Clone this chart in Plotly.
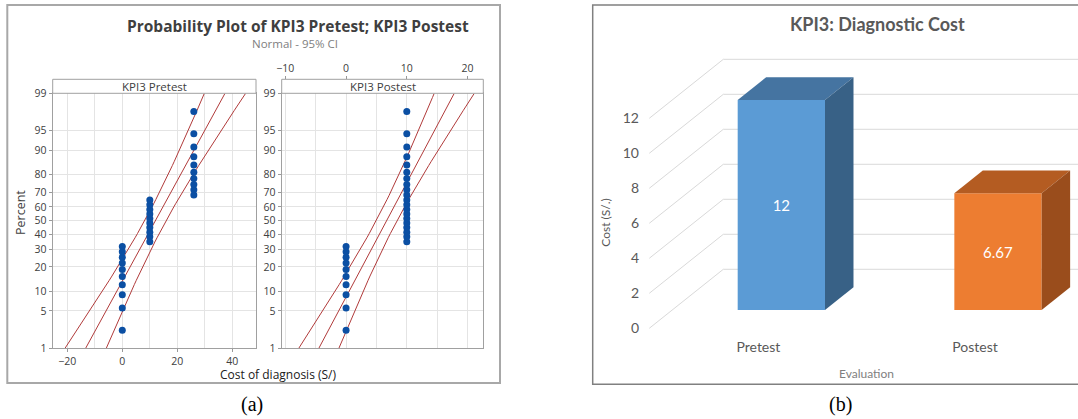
import math
from statistics import NormalDist, mean, stdev
import plotly.graph_objects as go

# ---------------- data ----------------
pretest_cost = [0, 0, 0, 0, 0, 0, 0, 0, 0, 0,
                10, 10, 10, 10, 10, 10, 10, 10, 10, 10,
                26, 26, 26, 26, 26, 26, 26, 26, 26, 26]
postest_cost = [0, 0, 0, 0, 0, 0, 0, 0, 0, 0,
                10, 10, 10, 10, 10, 10, 10, 10, 10, 10,
                10, 10, 10, 10, 10, 10, 10, 10, 10, 10]
percent_ticks = [1, 5, 10, 20, 30, 40, 50, 60, 70, 80, 90, 95, 99]
pre_xticks = [-20, 0, 20, 40]
pre_xminor = [-10, 10, 30]
post_xticks = [-10, 0, 10, 20]
post_xminor = [-5, 5, 15]

categories = ["Pretest", "Postest"]
avg_cost = [12, 6.67]
cost_ticks = [0, 2, 4, 6, 8, 10, 12]

# ---------------- helpers ----------------
W, H = 1078, 419
def px(x):
    return x / W
def py(y):
    return 1 - y / H

nd = NormalDist()
ZLO, ZHI = nd.inv_cdf(0.01), nd.inv_cdf(0.99)
GRID = "#e4e4e4"
AXC = "#a0a0a0"
TXT = "#404040"
RED = "#b03a3a"
BLUE = "#0b4fa3"
MFONT = "Open Sans"
XFONT = "Lato"

fig = go.Figure()

def prob_traces(data, xa, ya):
    vals = sorted(data)
    n = len(vals)
    zs = [nd.inv_cdf((i + 1 - 0.3) / (n + 0.4)) for i in range(n)]
    mu, s = mean(vals), stdev(vals)
    zg = [ZLO + (ZHI - ZLO) * k / 60 for k in range(61)]
    mid = [mu + z * s for z in zg]
    hw = [1.96 * s / math.sqrt(n) * math.sqrt(1 + z * z / 2) for z in zg]
    for xs in ([m - h for m, h in zip(mid, hw)], mid, [m + h for m, h in zip(mid, hw)]):
        fig.add_trace(go.Scatter(x=xs, y=zg, mode="lines", xaxis=xa, yaxis=ya,
                                 line=dict(color=RED, width=1), showlegend=False,
                                 hoverinfo="skip"))
    fig.add_trace(go.Scatter(x=vals, y=zs, mode="markers", xaxis=xa, yaxis=ya,
                             marker=dict(color=BLUE, size=7), showlegend=False))

prob_traces(pretest_cost, "x", "y")
prob_traces(postest_cost, "x2", "y2")
# carrier for the top axis of the postest panel
fig.add_trace(go.Scatter(x=[0], y=[0], xaxis="x5", yaxis="y2", mode="markers",
                         marker=dict(opacity=0), showlegend=False, hoverinfo="skip"))

zt = [nd.inv_cdf(p / 100) for p in percent_ticks]
ydom = [py(348.3), py(93.3)]
yax = dict(range=[ZLO, ZHI], tickmode="array", tickvals=zt,
           ticktext=[str(p) for p in percent_ticks], showgrid=True, gridcolor=GRID,
           zeroline=False, showline=True, linecolor=AXC, mirror=True,
           ticks="outside", ticklen=3, tickcolor="#999", automargin=False,
           tickfont=dict(family=MFONT, size=10.5, color=TXT), domain=ydom)

P1 = [52.7, 256.0]
P2 = [281.7, 483.3]
fig.update_layout(
    xaxis=dict(domain=[px(P1[0]), px(P1[1])], range=[-25.3, 48.6], tickmode="array",
               tickvals=pre_xticks, showgrid=True, gridcolor=GRID, zeroline=False,
               minor=dict(tickvals=pre_xminor, showgrid=True, gridcolor=GRID),
               showline=True, linecolor=AXC, mirror=True, ticks="outside", ticklen=3,
               tickcolor="#999", tickfont=dict(family=MFONT, size=10.5, color=TXT),
               anchor="y", automargin=False),
    yaxis=dict(anchor="x", **yax),
    xaxis2=dict(domain=[px(P2[0]), px(P2[1])], range=[-10.6, 22.6], tickmode="array",
                tickvals=post_xticks, showgrid=True, gridcolor=GRID, zeroline=False,
                minor=dict(tickvals=post_xminor, showgrid=True, gridcolor=GRID),
                showline=True, linecolor=AXC, mirror=True, showticklabels=False,
                ticks="", anchor="y2", automargin=False),
    yaxis2=dict(anchor="x2", **yax),
    xaxis5=dict(overlaying="x2", anchor="free", position=py(79.3), side="top",
                range=[-10.6, 22.6], tickmode="array", tickvals=post_xticks,
                showgrid=False, zeroline=False, showline=False, ticks="outside",
                ticklen=3, tickcolor="#999", automargin=False,
                tickfont=dict(family=MFONT, size=10.5, color=TXT)),
)

# ---------------- right: 3D-looking bar chart ----------------
BAR_W = 0.403
DX, DY = 0.3416, 3.371          # full floor depth in axis units
FF, BF = 0.31, 0.385            # front-plane fraction, bar depth fraction
WALL_L = -0.5036
X3R = [-0.6524, 1.3693]
Y3R = [-1.543, 15.4286]
front_col = ["#5b9bd5", "#ed7d31"]
top_col = ["#4574a1", "#b45c22"]
side_col = ["#386186", "#9a4d1c"]

fig.add_trace(go.Bar(x=list(range(len(categories))), y=avg_cost, width=BAR_W,
                     marker=dict(color=front_col, line=dict(width=0)),
                     text=[f"{v:g}" for v in avg_cost], textposition="inside",
                     insidetextanchor="middle", textangle=0,
                     textfont=dict(family=XFONT, size=15, color="white"),
                     xaxis="x3", yaxis="y3", showlegend=False))
fig.add_trace(go.Scatter(x=[0], y=[0], xaxis="x4", yaxis="y3", mode="markers",
                         marker=dict(opacity=0), showlegend=False, hoverinfo="skip"))
fig.add_trace(go.Scatter(x=[0], y=[0], xaxis="x3", yaxis="y4", mode="markers",
                         marker=dict(opacity=0), showlegend=False, hoverinfo="skip"))

shapes = []
for v in cost_ticks:
    fx, fy = WALL_L - FF * DX, v - FF * DY
    bx, by = WALL_L + (1 - FF) * DX, v + (1 - FF) * DY
    shapes.append(dict(type="path", xref="x3", yref="y3", layer="below",
                       path=f"M{fx},{fy} L{bx},{by} L{X3R[1]},{by}",
                       line=dict(color="#d9d9d9", width=1)))
dx, dy = BF * DX, BF * DY
for i, v in enumerate(avg_cost):
    x0, x1 = i - BAR_W / 2, i + BAR_W / 2
    shapes.append(dict(type="path", xref="x3", yref="y3", layer="above",
                       path=f"M{x0},{v} L{x1},{v} L{x1+dx},{v+dy} L{x0+dx},{v+dy} Z",
                       fillcolor=top_col[i], line=dict(width=0)))
    shapes.append(dict(type="path", xref="x3", yref="y3", layer="above",
                       path=f"M{x1},0 L{x1},{v} L{x1+dx},{v+dy} L{x1+dx},{dy} Z",
                       fillcolor=side_col[i], line=dict(width=0)))

# panel frames and facet header strips
shapes += [
    dict(type="rect", xref="paper", yref="paper", x0=px(7.3), x1=px(500),
         y0=py(383), y1=py(5), line=dict(color="#a8a8a8", width=2)),
    dict(type="rect", xref="paper", yref="paper", x0=px(592.7), x1=px(1082),
         y0=py(384.3), y1=py(5), line=dict(color="#808080", width=1.5)),
    dict(type="rect", xref="paper", yref="paper", x0=px(P1[0]), x1=px(P1[1]),
         y0=py(93.3), y1=py(79.3), fillcolor="white", line=dict(color=AXC, width=1)),
    dict(type="rect", xref="paper", yref="paper", x0=px(P2[0]), x1=px(P2[1]),
         y0=py(93.3), y1=py(79.3), fillcolor="white", line=dict(color=AXC, width=1)),
]

fig.update_layout(
    xaxis3=dict(domain=[px(640), 1.0], range=X3R, anchor="y3", showticklabels=False,
                showgrid=False, zeroline=False, showline=False, ticks="",
                automargin=False),
    yaxis3=dict(domain=[py(337), py(40)], range=Y3R, anchor="x3", showticklabels=False,
                showgrid=False, zeroline=False, showline=False, ticks="",
                automargin=False),
    xaxis4=dict(overlaying="x3", anchor="y3", side="bottom",
                range=[X3R[0] + FF * DX, X3R[1] + FF * DX], tickmode="array",
                tickvals=list(range(len(categories))), ticktext=categories,
                showgrid=False, zeroline=False, showline=False, ticks="",
                automargin=False,
                tickfont=dict(family=XFONT, size=14, color="#595959")),
    yaxis4=dict(overlaying="y3", anchor="x3", side="left",
                range=[Y3R[0] + FF * DY, Y3R[1] + FF * DY], tickmode="array",
                tickvals=cost_ticks, showgrid=False, zeroline=False, showline=False,
                ticks="", automargin=False,
                tickfont=dict(family=XFONT, size=14, color="#595959")),
)

ann = [
    dict(text="<b>Probability Plot of KPI3 Pretest; KPI3 Postest</b>", x=px(297.5), y=py(26),
         font=dict(family=MFONT, size=15.5, color="#3f3f3f")),
    dict(text="Normal - 95% CI", x=px(295), y=py(43.3),
         font=dict(family=MFONT, size=11.5, color="#808080")),
    dict(text="KPI3 Pretest", x=px((P1[0] + P1[1]) / 2), y=py(86.5),
         font=dict(family=MFONT, size=11.5, color=TXT)),
    dict(text="KPI3 Postest", x=px((P2[0] + P2[1]) / 2), y=py(86.5),
         font=dict(family=MFONT, size=11.5, color=TXT)),
    dict(text="Percent", x=px(20), y=py(213), textangle=-90,
         font=dict(family=MFONT, size=12.5, color=TXT)),
    dict(text="Cost of diagnosis (S/)", x=px(278), y=py(374.5),
         font=dict(family=MFONT, size=12, color="#202020")),
    dict(text="(a)", x=px(252.3), y=py(404),
         font=dict(family="Liberation Serif", size=20, color="black")),
    dict(text="(b)", x=px(840), y=py(404),
         font=dict(family="Liberation Serif", size=20, color="black")),
    dict(text="<b>KPI3: Diagnostic Cost</b>", x=px(877.3), y=py(24),
         font=dict(family=XFONT, size=18, color="#595959")),
    dict(text="Evaluation", x=px(866.7), y=py(373.3),
         font=dict(family=XFONT, size=12, color="#7f7f7f")),
    dict(text="Cost (S/.)", x=px(605.7), y=py(223), textangle=-90,
         font=dict(family=XFONT, size=12, color="#595959")),
]
for a in ann:
    a.update(xref="paper", yref="paper", showarrow=False, xanchor="center", yanchor="middle")

fig.update_layout(width=W, height=H, margin=dict(l=0, r=0, t=0, b=0, pad=0),
                  autosize=False,
                  paper_bgcolor="white", plot_bgcolor="white",
                  shapes=shapes, annotations=ann, showlegend=False)

fig.write_html("out.html", config={"displayModeBar": False},
               post_script="document.body.style.margin='0px';"
                           "document.documentElement.style.overflow='hidden';")
